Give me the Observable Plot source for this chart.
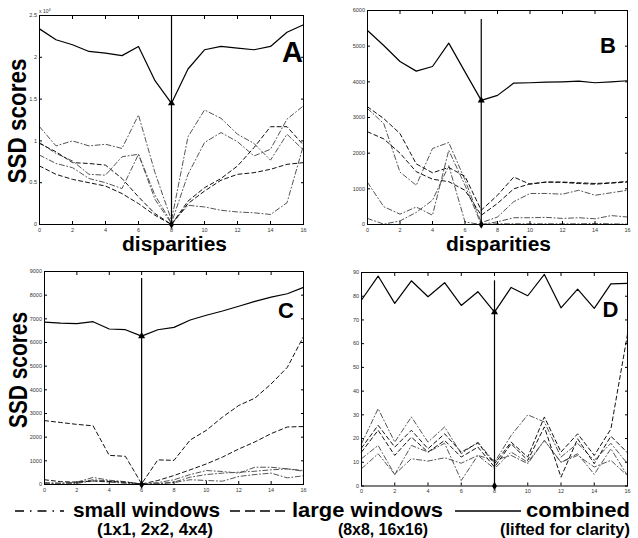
<!DOCTYPE html>
<html><head><meta charset="utf-8">
<script src="https://cdn.jsdelivr.net/npm/d3@7"></script>
<script src="https://cdn.jsdelivr.net/npm/@observablehq/plot@0.6"></script>
<style>
body{margin:0;background:#fff}
#fig{position:relative;width:638px;height:538px;overflow:hidden;background:#fff;font-family:"Liberation Sans",Arial,sans-serif}
#fig .p{position:absolute}
#ov{position:absolute;left:0;top:0;pointer-events:none}
</style></head><body><div id="fig"></div>
<script>
const disparities = [0,1,2,3,4,5,6,7,8,9,10,11,12,13,14,15,16];
const xTicks = [0,2,4,6,8,10,12,14,16];

// Panel A (SSD x 10^4)
const aCombined = [2.34,2.21,2.15,2.07,2.05,2.02,2.13,1.72,1.45,1.86,2.09,2.13,2.11,2.09,2.13,2.30,2.39];
const aSmall1 = [1.17,0.94,1.00,0.94,0.96,0.91,1.31,0.62,0.05,1.05,1.37,1.27,1.08,0.97,0.77,1.08,0.89];
const aSmall2 = [0.98,0.85,0.76,0.60,0.59,0.81,0.84,0.35,0.02,0.60,0.98,1.10,0.99,0.82,0.90,1.26,1.42];
const aSmall3 = [0.83,0.73,0.68,0.55,0.50,0.43,0.84,0.30,0.01,0.23,0.21,0.17,0.15,0.14,0.12,0.26,0.95];
const aLarge1 = [0.97,0.87,0.74,0.73,0.71,0.55,0.33,0.13,0.00,0.28,0.44,0.55,0.70,0.92,1.17,1.17,0.95];
const aLarge2 = [0.70,0.60,0.54,0.50,0.46,0.37,0.25,0.11,0.00,0.25,0.40,0.53,0.60,0.62,0.66,0.72,0.74];
const aYTicks = [0,0.5,1,1.5,2,2.5];
const aBest = 8, aRuleTop = 2.5;

// Panel B
const bCombined = [5440,5020,4570,4300,4430,5085,4280,3480,3620,3965,3975,3990,4000,4020,3975,4000,4030];
const bLarge1 = [3300,2970,2550,1700,1450,1600,1350,400,820,1330,1130,1190,1190,1170,1150,1170,1210];
const bLarge2 = [2600,2400,2000,1480,1270,1200,960,260,590,1000,1140,1190,1180,1150,1130,1160,1190];
const bSmall1 = [3250,2830,1470,1100,2130,2300,1250,50,210,640,870,870,850,960,820,890,960];
const bSmall2 = [1180,500,290,490,260,2080,1100,0,75,190,190,200,170,190,160,250,210];
const bSmall3 = [170,10,100,340,680,1650,70,0,20,20,20,20,20,20,30,20,10];
const bYTicks = [0,1000,2000,3000,4000,5000,6000];
const bBest = 7, bRuleTop = 5750;

// Panel C
const cCombined = [6860,6820,6800,6880,6570,6540,6270,6540,6640,6950,7150,7330,7530,7740,7920,8060,8330];
const cLarge1 = [2700,2620,2540,2480,1230,1190,30,1040,1020,1880,2290,2850,3340,3650,4250,4950,6250];
const cLarge2 = [200,120,100,150,130,100,20,170,380,620,870,1160,1500,1800,2150,2430,2450];
const cSmall1 = [80,60,100,300,180,120,20,80,200,420,590,550,480,730,730,660,590];
const cSmall2 = [50,40,80,200,150,80,10,40,100,310,420,480,520,560,620,660,560];
const cSmall3 = [30,20,50,150,100,50,5,30,80,200,170,140,340,420,480,280,370];
const cYTicks = [0,1000,2000,3000,4000,5000,6000,7000,8000,9000];
const cBest = 6, cRuleTop = 8700;

// Panel D
const dCombined = [78.4,88.5,77,86.5,79.8,85.7,76.1,81.9,73.3,83.7,80.2,89.2,75.1,83,74.9,85.2,85.4];
const dSmall1 = [17.8,32.6,18.5,29.1,18.5,24.9,13.6,18.5,10,21.3,30,27,12.2,18,10.8,18,9.4];
const dLarge1 = [16,25.6,16.4,23.5,15.7,22,14.3,18.1,9.4,18.5,12.2,29.1,14.3,22,12.9,24,64];
const dLarge2 = [14.3,23.5,12.9,20.6,14.3,19.2,12.2,16.4,8,17.8,10.8,24.9,3.7,19.9,9.4,21,14];
const dSmall2 = [11.5,17.1,4.8,17.1,14.3,18,2.3,12.9,7.3,14.3,10,19.2,10,13.6,4.9,15.7,4.4];
const dSmall3 = [7.3,13.6,4.9,11.5,10.5,11.9,9.6,12.9,10.8,12.9,9.4,19.2,10,12.9,8,10.8,4.4];
const dYTicks = [0,10,20,30,40,50,60,70,80,90];
const dBest = 8, dRuleTop = 86.5;

const panels = [
  {letter:"A", combined:aCombined, small:[aSmall1,aSmall2,aSmall3], large:[aLarge1,aLarge2], yTicks:aYTicks, best:aBest, ruleTop:aRuleTop,
   left:0, top:0, width:320, height:240, mL:39, mR:17, mT:15, mB:16, letterSize:29, ldx:-11, ldy:37},
  {letter:"B", combined:bCombined, small:[bSmall1,bSmall2,bSmall3], large:[bLarge1,bLarge2], yTicks:bYTicks, best:bBest, ruleTop:bRuleTop,
   left:320, top:0, width:318, height:240, mL:47, mR:11, mT:10, mB:16, letterSize:22, ldx:-19.5, ldy:35.5},
  {letter:"C", combined:cCombined, small:[cSmall1,cSmall2,cSmall3], large:[cLarge1,cLarge2], yTicks:cYTicks, best:cBest, ruleTop:cRuleTop,
   left:0, top:240, width:320, height:262, mL:44, mR:17, mT:31, mB:18, letterSize:22, ldx:-17.5, ldy:39},
  {letter:"D", combined:dCombined, small:[dSmall1,dSmall2,dSmall3], large:[dLarge1,dLarge2], yTicks:dYTicks, best:dBest, ruleTop:dRuleTop,
   left:320, top:240, width:318, height:262, mL:41, mR:11, mT:32, mB:16.5, letterSize:22, ldx:-17, ldy:37}
];

const fig = document.getElementById("fig");
const blank = () => "";
for (const p of panels) {
  const yMax = p.yTicks[p.yTicks.length-1];
  const marks = [];
  for (const s of p.small) marks.push(Plot.line(s, {x: disparities, y: s, stroke:"#555", strokeWidth:1, strokeDasharray:"5,2.5,1,2.5"}));
  for (const s of p.large) marks.push(Plot.line(s, {x: disparities, y: s, stroke:"#111", strokeWidth:1, strokeDasharray:"4,3"}));
  marks.push(Plot.line(p.combined, {x: disparities, y: p.combined, stroke:"#000", strokeWidth:1.2}));
  marks.push(Plot.ruleX([p.best], {x: d=>d, y1: 0, y2: p.ruleTop, stroke:"#000", strokeWidth:1.2}));
  marks.push(Plot.dot([p.best], {x: d=>d, y: d=>p.combined[d], symbol:"triangle", r:2.6, fill:"#000", stroke:"none"}));
  marks.push(Plot.dot([p.best], {x: d=>d, y: 0, symbol:"diamond", r:2.6, fill:"#000", stroke:"none"}));
  marks.push(Plot.frame({stroke:"#000", strokeWidth:1}));
  marks.push(Plot.axisX({ticks:xTicks, anchor:"bottom", tickSize:0, tickPadding:3.5, fontSize:5.5, label:null, fill:"#333", tickFormat:d=>String(d)}));
  marks.push(Plot.axisX({ticks:xTicks, anchor:"bottom", tickSize:-3, tickFormat:blank, label:null}));
  marks.push(Plot.axisX({ticks:xTicks, anchor:"top", tickSize:-3, tickFormat:blank, label:null}));
  marks.push(Plot.axisY({ticks:p.yTicks, anchor:"left", tickSize:0, tickPadding:2.5, fontSize:5.5, label:null, fill:"#333", tickFormat:d=>String(d)}));
  marks.push(Plot.axisY({ticks:p.yTicks, anchor:"left", tickSize:-3, tickFormat:blank, label:null}));
  marks.push(Plot.axisY({ticks:p.yTicks, anchor:"right", tickSize:-3, tickFormat:blank, label:null}));
  marks.push(Plot.text([p.letter], {frameAnchor:"top-right", dx:p.ldx, dy:p.ldy, fontSize:p.letterSize, fontWeight:"bold", fill:"#000", textAnchor:"middle", lineAnchor:"middle"}));
  const chart = Plot.plot({
    width:p.width, height:p.height,
    marginLeft:p.mL, marginRight:p.mR, marginTop:p.mT, marginBottom:p.mB,
    x:{domain:[0,16]}, y:{domain:[0,yMax]},
    style:{fontFamily:'"Liberation Sans", Arial, sans-serif', background:"transparent", overflow:"visible"},
    marks
  });
  chart.classList.add("p");
  chart.style.left = p.left + "px";
  chart.style.top = p.top + "px";
  fig.appendChild(chart);
}

// Overlay: axis titles, exponent, legend
const ov = d3.select(fig).append("svg").attr("id","ov").attr("width",638).attr("height",538)
  .style("font-family",'"Liberation Sans", Arial, sans-serif');
const ex = ov.append("text").attr("x",39).attr("y",13).attr("font-size",5).attr("fill","#333").text("x 10");
ex.append("tspan").attr("dy",-2.2).attr("font-size",4).text("4");

const yTitles = [{cx:17, cy:121, len:125},{cx:18, cy:370, len:116}];
for (const t of yTitles) {
  ov.append("text").attr("transform",`translate(${t.cx},${t.cy}) rotate(-90)`)
    .attr("text-anchor","middle").attr("dy","0.36em").attr("font-size",25).attr("font-weight","bold")
    .attr("textLength",t.len).attr("lengthAdjust","spacingAndGlyphs").text("SSD scores");
}
const xTitles = [{cx:174.5},{cx:498.5}];
for (const t of xTitles) {
  ov.append("text").attr("x",t.cx).attr("y",251).attr("text-anchor","middle").attr("font-size",20).attr("font-weight","bold")
    .attr("textLength",105).attr("lengthAdjust","spacingAndGlyphs").text("disparities");
}

// Legend
const legY = 511;
ov.append("line").attr("x1",15).attr("x2",64).attr("y1",legY).attr("y2",legY).attr("stroke","#000").attr("stroke-width",1.3).attr("stroke-dasharray","9,6,1.5,6");
ov.append("line").attr("x1",230).attr("x2",288).attr("y1",legY).attr("y2",legY).attr("stroke","#000").attr("stroke-width",1.3).attr("stroke-dasharray","10,5");
ov.append("line").attr("x1",455).attr("x2",521).attr("y1",legY).attr("y2",legY).attr("stroke","#000").attr("stroke-width",1.3);
const row1 = [{x:73, t:"small windows", len:147},{x:292, t:"large windows", len:151},{x:526, t:"combined", len:104}];
for (const r of row1) {
  ov.append("text").attr("x",r.x).attr("y",517).attr("font-size",21).attr("font-weight","bold")
    .attr("textLength",r.len).attr("lengthAdjust","spacingAndGlyphs").text(r.t);
}
const row2 = [{cx:155, t:"(1x1, 2x2, 4x4)", len:116},{cx:383, t:"(8x8, 16x16)", len:90},{cx:565, t:"(lifted for clarity)", len:130}];
for (const r of row2) {
  ov.append("text").attr("x",r.cx).attr("y",534.5).attr("text-anchor","middle").attr("font-size",16.5).attr("font-weight","bold")
    .attr("textLength",r.len).attr("lengthAdjust","spacingAndGlyphs").text(r.t);
}
</script></body></html>
